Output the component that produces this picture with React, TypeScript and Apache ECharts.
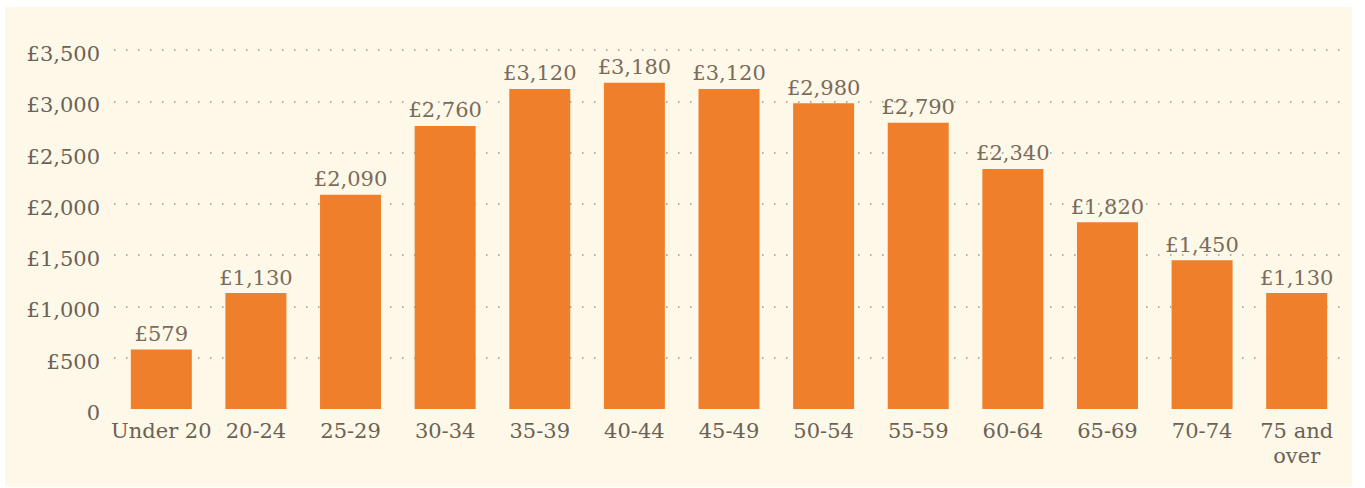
import React, { useEffect, useRef } from "react";
import * as echarts from "echarts";

const categories = ["Under 20", "20-24", "25-29", "30-34", "35-39", "40-44", "45-49", "50-54", "55-59", "60-64", "65-69", "70-74", "75 and\nover"];
const values = [579, 1130, 2090, 2760, 3120, 3180, 3120, 2980, 2790, 2340, 1820, 1450, 1130];
const yTicks = [0, 500, 1000, 1500, 2000, 2500, 3000, 3500];

const FONT = "'DejaVu Serif', serif";

export default function App() {
  const ref = useRef<HTMLDivElement>(null);
  useEffect(() => {
    document.body.style.margin = "0";
    const chart = echarts.init(ref.current!, null, { renderer: "svg" });
    const fmt = (v: number) => (v === 0 ? "0" : "£" + v.toLocaleString("en-GB"));
    chart.setOption({
      animation: false,
      backgroundColor: "#ffffff",
      graphic: [
        { type: "rect", z: -10, silent: true, shape: { x: 5, y: 7, width: 1347, height: 480 }, style: { fill: "#fef8e8" } },
      ],
      grid: { left: 114, right: 21, top: 50, bottom: 79 },
      xAxis: {
        type: "category",
        data: categories,
        axisLine: { show: false },
        axisTick: { show: false },
        axisLabel: { color: "#6b6256", fontFamily: FONT, fontSize: 21, margin: 9, lineHeight: 25, interval: 0 },
      },
      yAxis: {
        type: "value",
        min: 0,
        max: 3500,
        interval: 500,
        axisLine: { show: false },
        axisTick: { show: false },
        axisLabel: {
          color: "#6b6256",
          fontFamily: FONT,
          fontSize: 21,
          margin: 14,
          formatter: (v: number) => "{a|" + fmt(v) + "}",
          rich: { a: { color: "#6b6256", fontFamily: FONT, fontSize: 21, padding: [8, 0, 0, 0] } },
        },
        splitLine: {
          show: true,
          lineStyle: {
            color: yTicks.map((t) => (t === 0 ? "rgba(0,0,0,0)" : "#9d968a")),
            type: [1.5, 10.5],
            width: 1.5,
          },
        },
      },
      series: [
        {
          type: "bar",
          data: values,
          barWidth: 61,
          itemStyle: { color: "#f07f2b" },
          label: {
            show: true,
            position: "top",
            distance: 5,
            color: "#7a6b5b",
            fontFamily: FONT,
            fontSize: 21,
            formatter: (p: any) => fmt(p.value),
          },
        },
      ],
    });
    return () => chart.dispose();
  }, []);
  return <div ref={ref} style={{ width: 1365, height: 488 }} />;
}
